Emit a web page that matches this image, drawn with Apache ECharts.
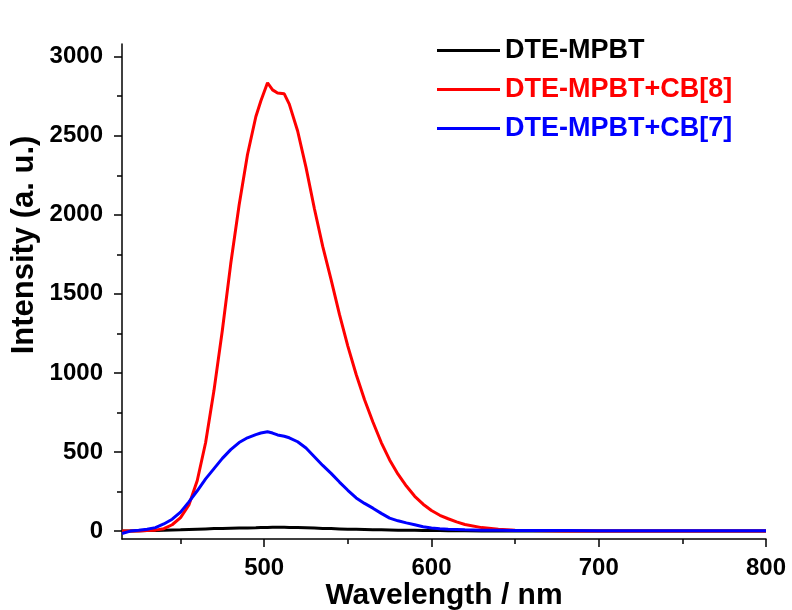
<!DOCTYPE html>
<html>
<head>
<meta charset="utf-8">
<script src="https://cdn.jsdelivr.net/npm/echarts@6/dist/echarts.min.js"></script>
<style>html,body{margin:0;padding:0;background:#fff}#c{width:792px;height:610px}</style>
</head>
<body>
<div id="c"></div>
<script>
const wavelength = [415,420,425,430,435,440,445,450,455,460,465,470,475,480,485,490,495,498,502,505,508,512,515,520,525,530,535,540,545,550,555,560,565,570,575,580,585,590,595,600,605,610,615,620,630,640,650,660,680,700,720,740,760,780,800];
const dteMpbt = [0,1,2,3,4,5,7,8,10,12,14,16,17,18,19,20,21,22,23,24,24,24,23,22,21,19,17,16,14,12,11,10,9,8,7,6,5,5,4,3,3,2,2,2,1,1,1,1,0,0,0,0,0,0,0];
const dteCB8 = [0,0,1,3,6,15,40,85,165,320,560,890,1270,1690,2060,2380,2620,2720,2835,2790,2770,2765,2700,2530,2300,2040,1800,1590,1370,1170,990,830,690,560,450,360,285,220,170,130,100,78,58,42,22,12,6,3,1,0,0,0,0,0,0];
const dteCB7 = [-15,0,5,12,22,45,75,120,185,255,330,395,460,515,560,590,610,620,628,620,608,600,590,565,525,470,415,365,310,258,210,175,145,112,82,65,52,40,28,20,15,12,10,8,6,5,4,3,3,2,2,2,2,2,2];
const seriesNames = ['DTE-MPBT','DTE-MPBT+CB[8]','DTE-MPBT+CB[7]'];
const seriesColors = ['#000000','#ff0000','#0000ff'];
const yMajorTicks = [0,500,1000,1500,2000,2500,3000];
const yMinorTicks = [250,750,1250,1750,2250,2750];
const xMajorTicks = [500,600,700,800];
const xMinorTicks = [450,550,650,750];

const FONT = '"Liberation Sans", Arial, sans-serif';
const pairs = v => wavelength.map((w,i)=>[w,v[i]]);
const allValues = [dteMpbt, dteCB8, dteCB7];
const plain = v => String(v);

const chart = echarts.init(document.getElementById('c'));
const yBase = {type:'value', min:-50, max:3080, position:'left', splitLine:{show:false}};
const xBase = {type:'value', min:415, max:800, position:'bottom', splitLine:{show:false}};
chart.setOption({
  animation:false,
  backgroundColor:'#fff',
  grid:{left:122, right:26, top:44, bottom:71, outerBoundsMode:'none', containLabel:false},
  legend:{
    orient:'vertical', left:432, top:32, itemWidth:63, itemHeight:3, itemGap:12, icon:'rect',
    textStyle:{fontFamily:FONT, fontWeight:'bold', fontSize:27},
    data: seriesNames.map((n,i)=>({name:n, textStyle:{color:seriesColors[i]}}))
  },
  graphic:{elements:[{
    type:'text', x:24, y:245, rotation:Math.PI/2,
    style:{text:'Intensity (a. u.)', fontFamily:FONT, fontWeight:'bold', fontSize:31, fill:'#000',
      align:'center', verticalAlign:'middle', textAlign:'center', textVerticalAlign:'middle'}
  }]},
  xAxis:[
    Object.assign({}, xBase, {
      name:'Wavelength / nm', nameLocation:'middle', nameGap:42, nameMoveOverlap:false,
      nameTextStyle:{fontFamily:FONT, fontWeight:'bold', fontSize:30, color:'#000'},
      axisLine:{show:true, onZero:false, lineStyle:{color:'#000', width:1.5}},
      axisTick:{show:true, customValues:xMajorTicks, length:8, lineStyle:{color:'#000', width:1.5}},
      axisLabel:{show:true, customValues:xMajorTicks, formatter:plain, margin:17, fontFamily:FONT, fontWeight:'bold', fontSize:24, color:'#000'}
    }),
    Object.assign({}, xBase, {
      axisLine:{show:false, onZero:false},
      axisTick:{show:true, customValues:xMinorTicks, length:5, lineStyle:{color:'#000', width:1.5}},
      axisLabel:{show:false}
    })
  ],
  yAxis:[
    Object.assign({}, yBase, {
      axisLine:{show:true, onZero:false, lineStyle:{color:'#000', width:1.5}},
      axisTick:{show:true, customValues:yMajorTicks, length:8, lineStyle:{color:'#000', width:1.5}},
      axisLabel:{show:true, customValues:yMajorTicks, formatter:plain, margin:19, fontFamily:FONT, fontWeight:'bold', fontSize:24, color:'#000'}
    }),
    Object.assign({}, yBase, {
      axisLine:{show:false, onZero:false},
      axisTick:{show:true, customValues:yMinorTicks, length:5, lineStyle:{color:'#000', width:1.5}},
      axisLabel:{show:false}
    })
  ],
  series: seriesNames.map((n,i)=>({
    name:n, type:'line', xAxisIndex:0, yAxisIndex:0,
    data: pairs(allValues[i]), showSymbol:false, symbol:'none', smooth:false,
    lineStyle:{color:seriesColors[i], width:3}, itemStyle:{color:seriesColors[i]}
  }))
});
</script>
</body>
</html>
